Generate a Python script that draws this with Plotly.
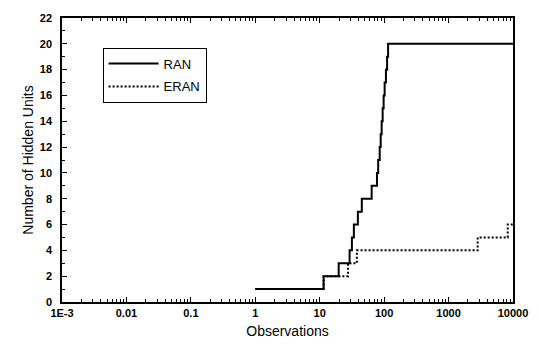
import plotly.graph_objects as go

# RAN step data (observations, hidden units)
ran_x = [1, 11.5, 19.7, 29.1, 31.6, 33.9, 39.1, 45, 64, 77.4, 80.8, 85.3, 88.4,
         91.5, 94.8, 98.2, 101.8, 106.6, 111.2, 115.2, 10000]
ran_y = [1, 2, 3, 4, 5, 6, 7, 8, 9, 10, 11, 12, 13, 14, 15, 16, 17, 18, 19, 20, 20]

# ERAN step data
eran_x = [1, 11.5, 27.5, 37.7, 2830, 8280, 10000]
eran_y = [1, 2, 3, 4, 5, 6, 6]

x_tickvals = [0.001, 0.01, 0.1, 1, 10, 100, 1000, 10000]
x_ticktext = ["1E-3", "0.01", "0.1", "1", "10", "100", "1000", "10000"]
y_tickvals = list(range(0, 23, 2))

FONT = "Liberation Sans, Arial, sans-serif"

fig = go.Figure()
fig.add_trace(go.Scatter(x=ran_x, y=ran_y, mode="lines", name="RAN", legendgroup="a",
                         line=dict(color="black", width=2, shape="hv")))
fig.add_trace(go.Scatter(x=eran_x, y=eran_y, mode="lines", name="ERAN", legendgroup="b",
                         line=dict(color="black", width=2, shape="hv", dash="2px,2px")))

fig.update_layout(
    width=540, height=349,
    margin=dict(l=62, r=24, t=15, b=45),
    paper_bgcolor="white", plot_bgcolor="white",
    font=dict(family=FONT, color="black", size=11),
    showlegend=True,
    legend=dict(x=0.09, y=0.896, xanchor="left", yanchor="top",
                bordercolor="black", borderwidth=1, bgcolor="white",
                font=dict(size=13, family=FONT, color="black"),
                itemwidth=50, entrywidth=90, traceorder="grouped", tracegroupgap=3),
)

fig.update_xaxes(
    type="log", range=[-3, 4],
    tickvals=x_tickvals, ticktext=x_ticktext,
    ticks="inside", ticklen=5, tickwidth=1, tickcolor="black",
    minor=dict(ticks="inside", ticklen=3, tickwidth=1, tickcolor="black", dtick="D1"),
    showline=True, linecolor="black", linewidth=1.5, mirror="allticks",
    showgrid=False, zeroline=False,
    tickfont=dict(size=11, family=FONT, color="black", weight="bold"),
    title=dict(text="Observations", font=dict(size=14, family=FONT, color="black"), standoff=8),
)
fig.update_yaxes(
    range=[0, 22],
    tickvals=y_tickvals,
    ticks="inside", ticklen=5, tickwidth=1, tickcolor="black",
    minor=dict(ticks="inside", ticklen=3, tickwidth=1, tickcolor="black", dtick=1),
    showline=True, linecolor="black", linewidth=1.5, mirror=True,
    showgrid=False, zeroline=False,
    ticklabelstandoff=6,
    tickfont=dict(size=11, family=FONT, color="black", weight="bold"),
    title=dict(text="Number of Hidden Units", font=dict(size=14, family=FONT, color="black"), standoff=3),
)

fig.write_html("out.html")
